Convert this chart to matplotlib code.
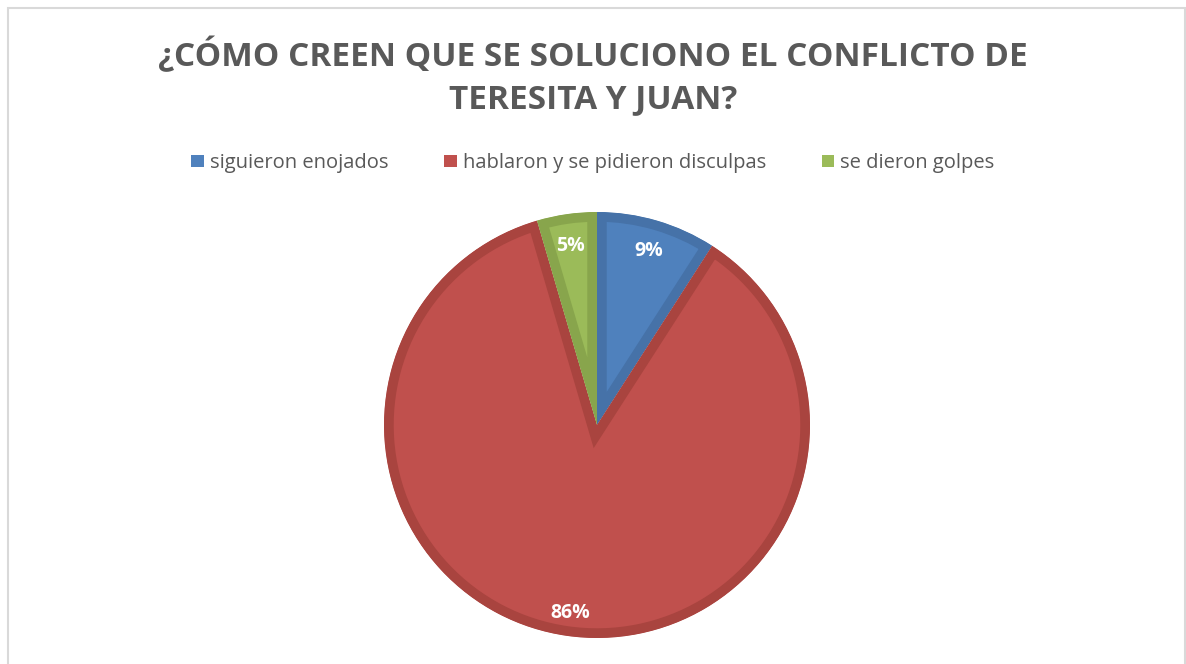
import matplotlib
matplotlib.use("Agg")
import matplotlib.pyplot as plt
from matplotlib.patches import Rectangle

title = "¿CÓMO CREEN QUE SE SOLUCIONO EL CONFLICTO DE\nTERESITA Y JUAN?"
categories = ["siguieron enojados", "hablaron y se pidieron disculpas", "se dieron golpes"]
values = [2, 19, 1]
colors = ["#4F81BD", "#C0504D", "#9BBB59"]
edge_colors = ["#4672A8", "#A9443F", "#88A54C"]

W, H = 1186, 664
fig = plt.figure(figsize=(W / 100, H / 100), dpi=100)
plt.rcParams['font.family'] = ['Open Sans', 'DejaVu Sans']

# chart border
fig.patches.append(Rectangle((8 / W, -0.05), (1185 - 8) / W, (664 - 8) / H + 0.05,
                             transform=fig.transFigure, fill=False,
                             edgecolor="#D9D9D9", linewidth=1.5))

cx, cy, r = 597, 425, 213
ax = fig.add_axes([(cx - r) / W, (H - cy - r) / H, 2 * r / W, 2 * r / H])

wedges, texts, autotexts = ax.pie(
    values, colors=colors, startangle=90, counterclock=False, radius=1,
    autopct=lambda p: f"{p:.0f}%", pctdistance=0.87,
    textprops=dict(color="white", fontsize=14, fontweight="bold"))
for w, ec in zip(wedges, edge_colors):
    w.set_edgecolor(ec)
    w.set_linewidth(14)
    w.set_clip_on(True)
    w.set_clip_path(w)
for t in autotexts:
    x, y = t.get_position()
    t.set_position((x, y - 0.02))
ax.set_aspect("auto")
ax.set_xlim(-1, 1)
ax.set_ylim(-1, 1)
ax.axis("off")

fig.text(0.5, 1 - 77 / H, title, ha="center", va="center", fontsize=24,
         fontweight="bold", color="#595959", linespacing=1.35)

# legend
handles = [Rectangle((0, 0), 1, 1, facecolor=c) for c in colors]
fig.legend(handles, categories, loc="center", bbox_to_anchor=(0.5, 1 - 163 / H),
           ncol=3, frameon=False, fontsize=14.5, handlelength=0.6, handleheight=0.6,
           handletextpad=0.3, columnspacing=2.8, labelcolor="#595959")

fig.savefig("out.png", dpi=100)
